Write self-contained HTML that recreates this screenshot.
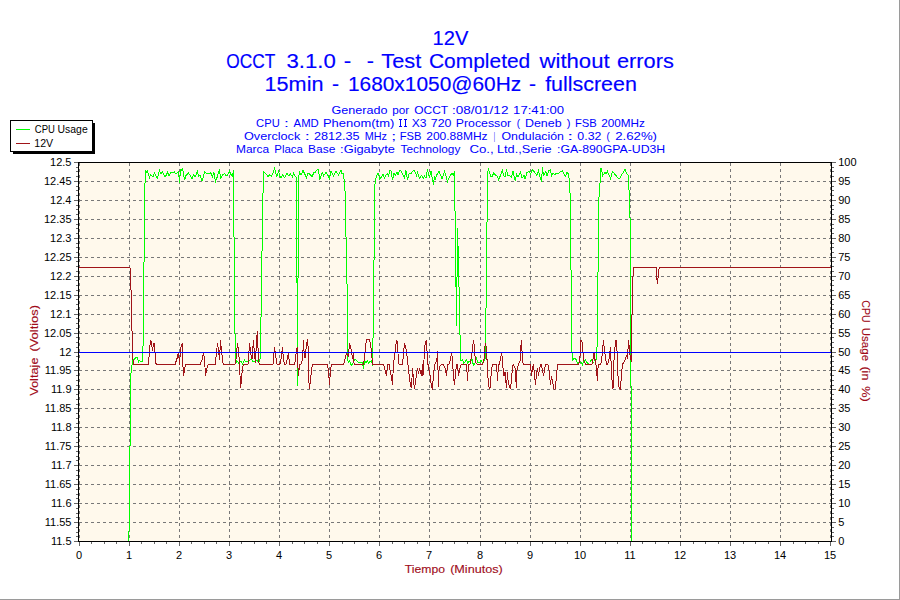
<!DOCTYPE html>
<html><head><meta charset="utf-8"><title>12V</title>
<style>html,body{margin:0;padding:0;background:#fff;overflow:hidden}body{width:900px;height:600px;font-family:"Liberation Sans",sans-serif}svg{display:block;position:absolute;left:0;top:0}text{font-family:"Liberation Sans",sans-serif}</style>
</head><body>
<svg width="900" height="600" viewBox="0 0 900 600">
<rect x="0" y="0" width="900" height="600" fill="#ffffff"/>
<rect x="899" y="0" width="1" height="600" fill="#9a9a9a"/>
<rect x="0" y="599" width="900" height="1" fill="#9a9a9a"/>
<rect x="78" y="162" width="753" height="380" fill="#fff9ec"/>
<g shape-rendering="crispEdges" stroke="#787878" stroke-width="1" stroke-dasharray="3 3" fill="none">
<line x1="79" y1="181.5" x2="831" y2="181.5"/>
<line x1="79" y1="200.5" x2="831" y2="200.5"/>
<line x1="79" y1="219.5" x2="831" y2="219.5"/>
<line x1="79" y1="238.5" x2="831" y2="238.5"/>
<line x1="79" y1="257.5" x2="831" y2="257.5"/>
<line x1="79" y1="276.5" x2="831" y2="276.5"/>
<line x1="79" y1="295.5" x2="831" y2="295.5"/>
<line x1="79" y1="314.5" x2="831" y2="314.5"/>
<line x1="79" y1="333.5" x2="831" y2="333.5"/>
<line x1="79" y1="352.5" x2="831" y2="352.5"/>
<line x1="79" y1="370.5" x2="831" y2="370.5"/>
<line x1="79" y1="389.5" x2="831" y2="389.5"/>
<line x1="79" y1="408.5" x2="831" y2="408.5"/>
<line x1="79" y1="427.5" x2="831" y2="427.5"/>
<line x1="79" y1="446.5" x2="831" y2="446.5"/>
<line x1="79" y1="465.5" x2="831" y2="465.5"/>
<line x1="79" y1="484.5" x2="831" y2="484.5"/>
<line x1="79" y1="503.5" x2="831" y2="503.5"/>
<line x1="79" y1="522.5" x2="831" y2="522.5"/>
<line x1="79.5" y1="163" x2="79.5" y2="541"/>
<line x1="129.5" y1="163" x2="129.5" y2="541"/>
<line x1="179.5" y1="163" x2="179.5" y2="541"/>
<line x1="229.5" y1="163" x2="229.5" y2="541"/>
<line x1="279.5" y1="163" x2="279.5" y2="541"/>
<line x1="329.5" y1="163" x2="329.5" y2="541"/>
<line x1="379.5" y1="163" x2="379.5" y2="541"/>
<line x1="429.5" y1="163" x2="429.5" y2="541"/>
<line x1="480.5" y1="163" x2="480.5" y2="541"/>
<line x1="530.5" y1="163" x2="530.5" y2="541"/>
<line x1="580.5" y1="163" x2="580.5" y2="541"/>
<line x1="630.5" y1="163" x2="630.5" y2="541"/>
<line x1="680.5" y1="163" x2="680.5" y2="541"/>
<line x1="730.5" y1="163" x2="730.5" y2="541"/>
<line x1="780.5" y1="163" x2="780.5" y2="541"/>
<line x1="830.5" y1="163" x2="830.5" y2="541"/>
</g>
<polyline points="128.5,541 128.5,531.5 129.5,530.5 129.5,446.5 130.5,445.5 130.5,373.5 131.5,372.5 131.5,365.5 132.5,364.5 132.5,360 134.5,359 136.5,357 137.5,357 138.5,362 139.5,360.5 140.5,361.5 142.5,361.5 142.5,346.5 143.5,345.5 143.5,262.5 144.5,261.5 144.5,183.5 145.5,182.5 145.5,170 146.5,172 147.5,171 148.5,174.5 149.5,177.5 150.5,175 152,176 153,177 154.5,173 156,176 157.5,178.5 159.5,170.5 161,174 162.5,172 164.5,176 165.5,176.5 167.5,172.5 169,175.5 171,172.5 174.5,172 176,174 178.5,171.5 179.5,183 180.5,169.5 181.5,170 182.5,168.5 183.5,173 184.5,180 186,175.5 188.5,173 190,175 192,178.5 193.5,174.5 195,177 197.5,171.5 198.5,176.5 200,175.5 202,180.5 203.5,176.5 204.5,171.5 206,173 207.5,173 209,174 210.5,172.5 212.5,176.5 214,172.5 215.5,181.5 217,177.5 219.5,169.5 220.5,178.5 222.5,175 224.5,173.5 226,175.5 227.5,175 229.5,171.5 231,174.5 232.5,176.5 233.5,170 233.5,236.5 234.5,237.5 234.5,333.5 235.5,334.5 235.5,358 236.5,362 237.5,361.5 238.5,363 239.5,360.5 241,361.5 242.5,364 244.5,360 245.5,361.5 248.5,361.5 250,360 251.5,359.5 252.5,361 254.5,361.5 256,360.5 257.5,361 259,361.5 260.5,358 260.5,317.5 261.5,316.5 261.5,251.5 262.5,250.5 262.5,193.5 263.5,192.5 263.5,171.5 265,173 266.5,174.5 268,176.5 269.5,175 271.5,176 273,173 274.5,168.5 275.5,172 276.5,176.5 277.5,175.5 278.5,170 279.5,176 281,177.5 282.5,175 284.5,177.5 287,173.5 289,176 290.5,174 292.5,177 293.5,173 295,176 296.5,177.5 297.5,385.5 298.5,177.5 299.5,172 301,175 303,170.5 305,174.5 306.5,177.5 308,173 310,174.5 312,176.5 314,172.5 315,173 316.5,170.5 318,169.5 319,174 320,179.5 321.5,174 322.5,172.5 323.5,176 326,172.5 328,175.5 329.5,178.5 331,171 333.5,176 336,171.5 338.5,175 341,170.5 342,173.5 343,173 344,179 344.5,181.5 344.5,190.5 345.5,191.5 345.5,236.5 346.5,237.5 346.5,283.5 347.5,284.5 347.5,360 348.5,362 349.5,361 351.5,365.5 354,361 355,359 357,361 358.5,362.5 362,362.5 363.5,367.5 365,361 366,362.5 367.5,360.5 368.5,363 371.5,360.5 372.5,365.5 372.5,338.5 373.5,337.5 373.5,260.5 374.5,259.5 374.5,187.5 375.5,181 376.5,176 378,173.5 379,176 379.5,179.5 381,177.5 383,174.5 384.5,178 386,175 387.5,174 388.5,176 390,170 391,171 392.5,179.5 394,173.5 395.5,175 397,172.5 398,175 399.5,171 400.5,170.5 402,173 404.5,177.5 406,170.5 407.5,179.5 409,174 411,173.5 413,171 414.5,170.5 416.5,175.5 417.5,172.5 419.5,178.5 421.5,175.5 423.5,178 424.5,176 426,178 427.5,169.5 428.5,175 429.5,177 431,171.5 432.5,179 433.5,184.5 434.5,176 435.5,178.5 437,174.5 439,171.5 440.5,175 442,179 444.5,171.5 446,176 447.5,181.5 449.5,176.5 452,173.5 453.5,175.5 454.5,171.5 454.5,210.5 455.5,211.5 455.5,286.5 456.5,287.5 456.5,326 456.5,277.5 457.5,276.5 457.5,228 457.5,245.5 458.5,246.5 458.5,286.5 459.5,287.5 459.5,334.5 460.5,335.5 460.5,360 461.5,360.5 462.5,359.5 463.5,363 465,362 466.5,359.5 467.5,363 469,361.5 470.5,361.5 472,359.5 473.5,365.5 475,363 476.5,357 477.5,362 479.5,362.5 481,360 482.5,363 484,361 485.5,358 485.5,308.5 486.5,307.5 486.5,222.5 487.5,221.5 487.5,173 488.5,169.5 489.5,172.5 491,176.5 492.5,176 493.5,173 495.5,175 497,176 498.5,179.5 500.5,175.5 502.5,170 503.5,175.5 505,177 506.5,169.5 507.5,175 509.5,175.5 511.5,177 513,171.5 514.5,178 515.5,181 516.5,174 518,177 520.5,172.5 522,178 524,175.5 525,179 527,172.5 529,171.5 530.5,174 532.5,169.5 534.5,172 537,175.5 538.5,170.5 540.5,179 541.5,181.5 542.5,167.5 543.5,175.5 544.5,174 546,171.5 547,176 549,170.5 550.5,170 551.5,176 553,173.5 555,174.5 557,173 559,173 561,171.5 562.5,170.5 564,174 565.5,176 567,172.5 568,173.5 569.5,180.5 569.5,192.5 570.5,193.5 570.5,269.5 571.5,270.5 571.5,352.5 572.5,353.5 572.5,360 573.5,359 575,358.5 576.5,360 577.5,363.5 579.5,362 581,362 582.5,364.5 584,361 585.5,359.5 586.5,362 588,363.5 589.5,362.5 591.5,359.5 593,362.5 594.5,361.5 595.5,359 596.5,359 596.5,347.5 597.5,346.5 597.5,272.5 598.5,271.5 598.5,197.5 599.5,196.5 599.5,183.5 600.5,182.5 600.5,169 601.5,168.5 602.5,176 605,172.5 606,174 607.5,171.5 610.5,178.5 612.5,171.5 615,174.5 618.5,178.5 620,178 622.5,173.5 625,169.5 627,174 628.5,175.5 628.5,189.5 629.5,190.5 629.5,217.5 630.5,218.5 630.5,385.5 631.5,386.5 631.5,541" fill="none" stroke="#00ff00" stroke-width="1" shape-rendering="crispEdges" stroke-linejoin="miter"/>
<polyline points="78.5,267.5 129.5,267.5 130.5,268.5 130.5,289.5 131.5,290.5 131.5,330.5 132.5,331.5 132.5,354.5 133.5,364.5 148.5,364.5 149.5,350.5 150.5,340.5 151.5,342 152.5,351 153.5,343 154.5,343 155,353 155.5,363 157,364.5 175,364.5 177.5,357 178.5,352 179.5,364.5 180.5,349 181.5,345 182.5,343 182.5,359 183.5,375.5 184.5,370 185.5,364.5 200,364.5 202,360 203.5,353 204.5,359 205.5,375.5 206.5,370 208,365 209,364.5 215,364.5 216,357 217.5,343 218.5,350 219.5,360 220.5,340 221.5,351 223,363 223.5,364.5 235,364.5 236,359 237.5,343 238.5,350 239.5,363 240.5,387.5 241.5,380 242.5,367 243.5,364.5 248,364.5 248.5,359 249.5,343 251,355 252,359 253.5,340 254.5,355 255.5,363 256.5,340 257.5,331 258,348 259,363 259.5,364.5 273,364.5 273.5,359 274.5,347 275.5,355 277,364 279,364.5 280.5,363 281.5,355 282.5,347 283.5,360 284.5,364.5 286,364.5 287,360 288.5,353 289.5,364.5 294.5,364.5 295.5,359 296.5,349 297.5,347 297.5,360 298.5,375.5 299.5,365 301,364 302.5,360 303.5,340 304,351 305,358 306.5,345 307.5,339 308.5,353 308.5,376 309.5,389 310.5,380 311.5,370 312.5,364.5 327.5,364.5 328.5,372 329.5,384.5 330.5,370 331.5,364.5 343.5,364.5 345,359 346.5,353 347.5,355 348.5,356 349.5,343 350.5,347 351.5,351 352.5,359 353.5,353 354,363 355,364.5 363,364.5 364,361 365,353 365.5,345 367,339.5 369.5,339.5 370.5,345 371.5,351 372.5,364.5 383.5,364.5 385,370 386.5,375.5 387.5,364.5 389,364.5 390.5,372 391.5,378 392.5,384.5 393.5,363 395,353 396.5,340 397.5,343 398.5,363 399.5,364.5 402.5,364.5 403.5,353 404.5,343 406.5,351 408,364.5 409.5,378 410.5,386 411.5,387.5 412.5,368 413.5,380 414.5,389 416,378 417.5,368 418.5,374 419.5,368 420.5,372 421.5,375.5 422.5,364.5 423,375.5 424,360 424.5,347 425.5,342.5 426.5,340 427,351 428,364.5 429.5,372 430.5,378 431.5,387 432.5,389 433,381 434,370 435,364 436,362 437,358 437.5,351 438,370 438.5,387 439,370 440,366 441.5,364.5 443.5,364.5 445,368 446.5,375.5 447.5,365 449,364.5 450.5,359 451.5,353 452.5,359 453.5,378 454.5,384.5 455.5,374 456.5,364.5 457.5,364.5 458.5,375.5 459.5,370 461,365 462,364.5 466,364.5 467,372 467.5,380.5 468.5,364.5 470,364 471,359 472.5,349 473.5,340 474.5,347 475,356 476,363 477.5,364.5 482.5,364.5 484,359 484.5,349 485.5,343 486.5,349 486.5,359 487.5,360 488,378 489,387 490,388.5 490.5,382 491.5,370 492.5,364.5 496,364.5 497,372 497.5,380.5 498.5,364.5 499.5,364 500.5,359 501.5,353 502.5,359 503,368 504,375.5 505,372 505.5,378 506.5,387.5 507.5,372 508,380 509.5,387 510.5,388.5 511.5,380 512.5,366 513.5,364.5 515,368 515.5,375.5 516.5,387.5 517,370 518.5,364.5 520,361 520.5,351 521.5,340 522,351 523,363 524,364.5 530.5,364.5 531.5,375.5 532.5,368 533.5,364.5 534.5,375.5 535.5,384.5 536.5,374 537.5,368 538.5,375.5 539.5,368 541,364.5 541.5,365 542.5,370 543.5,375.5 544.5,370 545.5,364.5 548,364.5 549,370 550.5,384.5 551.5,376 552.5,382 554,389 555,389 556,381 557,370 558,364.5 578,364.5 579.5,362 580.5,351 581,340 582.5,342.5 583,353 584,361 585.5,364.5 592,364.5 593,359 594,353 594.5,359 595.5,360 596,364.5 596.5,372 597.5,380.5 598,368 599,364.5 600.5,364.5 601.5,362 602.5,351 603.5,340 604.5,351 606,361 607,364.5 608,363 609,359 610.5,347 611,361 612,380 613,389 613.5,370 614.5,351 616,340 617,351 617,370 618,376 619,387 620.5,389 621.5,374 622.5,364.5 624,362 625.5,359 626.5,355 627.5,359 628.5,340 629.5,349 630,355 631.5,362 631.5,330.5 632.5,300.5 632.5,276.5 633.5,275.5 633.5,267.5 656.5,267.5 656.5,276 657.5,284 658,278 658.5,271 659.5,267.5 830.5,267.5" fill="none" stroke="#a01418" stroke-width="1" shape-rendering="crispEdges" stroke-linejoin="miter"/>
<rect x="79" y="352" width="752" height="1" fill="#0000ff" shape-rendering="crispEdges"/>
<g shape-rendering="crispEdges" fill="#000">
<rect x="78" y="162" width="754" height="1"/>
<rect x="78" y="541" width="754" height="1"/>
<rect x="78" y="162" width="1" height="380"/>
<rect x="831" y="162" width="1" height="380"/>
</g>
<g shape-rendering="crispEdges" fill="#666666">
<rect x="74" y="162" width="4" height="1"/>
<rect x="832" y="162" width="4" height="1"/>
<rect x="76" y="167" width="2" height="1"/>
<rect x="832" y="167" width="2" height="1"/>
<rect x="76" y="171" width="2" height="1"/>
<rect x="832" y="171" width="2" height="1"/>
<rect x="76" y="176" width="2" height="1"/>
<rect x="832" y="176" width="2" height="1"/>
<rect x="74" y="181" width="4" height="1"/>
<rect x="832" y="181" width="4" height="1"/>
<rect x="76" y="186" width="2" height="1"/>
<rect x="832" y="186" width="2" height="1"/>
<rect x="76" y="190" width="2" height="1"/>
<rect x="832" y="190" width="2" height="1"/>
<rect x="76" y="195" width="2" height="1"/>
<rect x="832" y="195" width="2" height="1"/>
<rect x="74" y="200" width="4" height="1"/>
<rect x="832" y="200" width="4" height="1"/>
<rect x="76" y="205" width="2" height="1"/>
<rect x="832" y="205" width="2" height="1"/>
<rect x="76" y="209" width="2" height="1"/>
<rect x="832" y="209" width="2" height="1"/>
<rect x="76" y="214" width="2" height="1"/>
<rect x="832" y="214" width="2" height="1"/>
<rect x="74" y="219" width="4" height="1"/>
<rect x="832" y="219" width="4" height="1"/>
<rect x="76" y="224" width="2" height="1"/>
<rect x="832" y="224" width="2" height="1"/>
<rect x="76" y="228" width="2" height="1"/>
<rect x="832" y="228" width="2" height="1"/>
<rect x="76" y="233" width="2" height="1"/>
<rect x="832" y="233" width="2" height="1"/>
<rect x="74" y="238" width="4" height="1"/>
<rect x="832" y="238" width="4" height="1"/>
<rect x="76" y="243" width="2" height="1"/>
<rect x="832" y="243" width="2" height="1"/>
<rect x="76" y="247" width="2" height="1"/>
<rect x="832" y="247" width="2" height="1"/>
<rect x="76" y="252" width="2" height="1"/>
<rect x="832" y="252" width="2" height="1"/>
<rect x="74" y="257" width="4" height="1"/>
<rect x="832" y="257" width="4" height="1"/>
<rect x="76" y="261" width="2" height="1"/>
<rect x="832" y="261" width="2" height="1"/>
<rect x="76" y="266" width="2" height="1"/>
<rect x="832" y="266" width="2" height="1"/>
<rect x="76" y="271" width="2" height="1"/>
<rect x="832" y="271" width="2" height="1"/>
<rect x="74" y="276" width="4" height="1"/>
<rect x="832" y="276" width="4" height="1"/>
<rect x="76" y="280" width="2" height="1"/>
<rect x="832" y="280" width="2" height="1"/>
<rect x="76" y="285" width="2" height="1"/>
<rect x="832" y="285" width="2" height="1"/>
<rect x="76" y="290" width="2" height="1"/>
<rect x="832" y="290" width="2" height="1"/>
<rect x="74" y="295" width="4" height="1"/>
<rect x="832" y="295" width="4" height="1"/>
<rect x="76" y="299" width="2" height="1"/>
<rect x="832" y="299" width="2" height="1"/>
<rect x="76" y="304" width="2" height="1"/>
<rect x="832" y="304" width="2" height="1"/>
<rect x="76" y="309" width="2" height="1"/>
<rect x="832" y="309" width="2" height="1"/>
<rect x="74" y="314" width="4" height="1"/>
<rect x="832" y="314" width="4" height="1"/>
<rect x="76" y="318" width="2" height="1"/>
<rect x="832" y="318" width="2" height="1"/>
<rect x="76" y="323" width="2" height="1"/>
<rect x="832" y="323" width="2" height="1"/>
<rect x="76" y="328" width="2" height="1"/>
<rect x="832" y="328" width="2" height="1"/>
<rect x="74" y="333" width="4" height="1"/>
<rect x="832" y="333" width="4" height="1"/>
<rect x="76" y="337" width="2" height="1"/>
<rect x="832" y="337" width="2" height="1"/>
<rect x="76" y="342" width="2" height="1"/>
<rect x="832" y="342" width="2" height="1"/>
<rect x="76" y="347" width="2" height="1"/>
<rect x="832" y="347" width="2" height="1"/>
<rect x="74" y="352" width="4" height="1"/>
<rect x="832" y="352" width="4" height="1"/>
<rect x="76" y="356" width="2" height="1"/>
<rect x="832" y="356" width="2" height="1"/>
<rect x="76" y="361" width="2" height="1"/>
<rect x="832" y="361" width="2" height="1"/>
<rect x="76" y="366" width="2" height="1"/>
<rect x="832" y="366" width="2" height="1"/>
<rect x="74" y="370" width="4" height="1"/>
<rect x="832" y="370" width="4" height="1"/>
<rect x="76" y="375" width="2" height="1"/>
<rect x="832" y="375" width="2" height="1"/>
<rect x="76" y="380" width="2" height="1"/>
<rect x="832" y="380" width="2" height="1"/>
<rect x="76" y="385" width="2" height="1"/>
<rect x="832" y="385" width="2" height="1"/>
<rect x="74" y="389" width="4" height="1"/>
<rect x="832" y="389" width="4" height="1"/>
<rect x="76" y="394" width="2" height="1"/>
<rect x="832" y="394" width="2" height="1"/>
<rect x="76" y="399" width="2" height="1"/>
<rect x="832" y="399" width="2" height="1"/>
<rect x="76" y="404" width="2" height="1"/>
<rect x="832" y="404" width="2" height="1"/>
<rect x="74" y="408" width="4" height="1"/>
<rect x="832" y="408" width="4" height="1"/>
<rect x="76" y="413" width="2" height="1"/>
<rect x="832" y="413" width="2" height="1"/>
<rect x="76" y="418" width="2" height="1"/>
<rect x="832" y="418" width="2" height="1"/>
<rect x="76" y="423" width="2" height="1"/>
<rect x="832" y="423" width="2" height="1"/>
<rect x="74" y="427" width="4" height="1"/>
<rect x="832" y="427" width="4" height="1"/>
<rect x="76" y="432" width="2" height="1"/>
<rect x="832" y="432" width="2" height="1"/>
<rect x="76" y="437" width="2" height="1"/>
<rect x="832" y="437" width="2" height="1"/>
<rect x="76" y="442" width="2" height="1"/>
<rect x="832" y="442" width="2" height="1"/>
<rect x="74" y="446" width="4" height="1"/>
<rect x="832" y="446" width="4" height="1"/>
<rect x="76" y="451" width="2" height="1"/>
<rect x="832" y="451" width="2" height="1"/>
<rect x="76" y="456" width="2" height="1"/>
<rect x="832" y="456" width="2" height="1"/>
<rect x="76" y="460" width="2" height="1"/>
<rect x="832" y="460" width="2" height="1"/>
<rect x="74" y="465" width="4" height="1"/>
<rect x="832" y="465" width="4" height="1"/>
<rect x="76" y="470" width="2" height="1"/>
<rect x="832" y="470" width="2" height="1"/>
<rect x="76" y="475" width="2" height="1"/>
<rect x="832" y="475" width="2" height="1"/>
<rect x="76" y="479" width="2" height="1"/>
<rect x="832" y="479" width="2" height="1"/>
<rect x="74" y="484" width="4" height="1"/>
<rect x="832" y="484" width="4" height="1"/>
<rect x="76" y="489" width="2" height="1"/>
<rect x="832" y="489" width="2" height="1"/>
<rect x="76" y="494" width="2" height="1"/>
<rect x="832" y="494" width="2" height="1"/>
<rect x="76" y="498" width="2" height="1"/>
<rect x="832" y="498" width="2" height="1"/>
<rect x="74" y="503" width="4" height="1"/>
<rect x="832" y="503" width="4" height="1"/>
<rect x="76" y="508" width="2" height="1"/>
<rect x="832" y="508" width="2" height="1"/>
<rect x="76" y="513" width="2" height="1"/>
<rect x="832" y="513" width="2" height="1"/>
<rect x="76" y="517" width="2" height="1"/>
<rect x="832" y="517" width="2" height="1"/>
<rect x="74" y="522" width="4" height="1"/>
<rect x="832" y="522" width="4" height="1"/>
<rect x="76" y="527" width="2" height="1"/>
<rect x="832" y="527" width="2" height="1"/>
<rect x="76" y="532" width="2" height="1"/>
<rect x="832" y="532" width="2" height="1"/>
<rect x="76" y="536" width="2" height="1"/>
<rect x="832" y="536" width="2" height="1"/>
<rect x="74" y="541" width="4" height="1"/>
<rect x="832" y="541" width="4" height="1"/>
<rect x="79" y="542" width="1" height="4"/>
<rect x="91" y="542" width="1" height="2"/>
<rect x="104" y="542" width="1" height="2"/>
<rect x="116" y="542" width="1" height="2"/>
<rect x="129" y="542" width="1" height="4"/>
<rect x="141" y="542" width="1" height="2"/>
<rect x="154" y="542" width="1" height="2"/>
<rect x="166" y="542" width="1" height="2"/>
<rect x="179" y="542" width="1" height="4"/>
<rect x="191" y="542" width="1" height="2"/>
<rect x="204" y="542" width="1" height="2"/>
<rect x="216" y="542" width="1" height="2"/>
<rect x="229" y="542" width="1" height="4"/>
<rect x="241" y="542" width="1" height="2"/>
<rect x="254" y="542" width="1" height="2"/>
<rect x="266" y="542" width="1" height="2"/>
<rect x="279" y="542" width="1" height="4"/>
<rect x="292" y="542" width="1" height="2"/>
<rect x="304" y="542" width="1" height="2"/>
<rect x="317" y="542" width="1" height="2"/>
<rect x="329" y="542" width="1" height="4"/>
<rect x="342" y="542" width="1" height="2"/>
<rect x="354" y="542" width="1" height="2"/>
<rect x="367" y="542" width="1" height="2"/>
<rect x="379" y="542" width="1" height="4"/>
<rect x="392" y="542" width="1" height="2"/>
<rect x="404" y="542" width="1" height="2"/>
<rect x="417" y="542" width="1" height="2"/>
<rect x="429" y="542" width="1" height="4"/>
<rect x="442" y="542" width="1" height="2"/>
<rect x="454" y="542" width="1" height="2"/>
<rect x="467" y="542" width="1" height="2"/>
<rect x="480" y="542" width="1" height="4"/>
<rect x="492" y="542" width="1" height="2"/>
<rect x="505" y="542" width="1" height="2"/>
<rect x="517" y="542" width="1" height="2"/>
<rect x="530" y="542" width="1" height="4"/>
<rect x="542" y="542" width="1" height="2"/>
<rect x="555" y="542" width="1" height="2"/>
<rect x="567" y="542" width="1" height="2"/>
<rect x="580" y="542" width="1" height="4"/>
<rect x="592" y="542" width="1" height="2"/>
<rect x="605" y="542" width="1" height="2"/>
<rect x="617" y="542" width="1" height="2"/>
<rect x="630" y="542" width="1" height="4"/>
<rect x="642" y="542" width="1" height="2"/>
<rect x="655" y="542" width="1" height="2"/>
<rect x="668" y="542" width="1" height="2"/>
<rect x="680" y="542" width="1" height="4"/>
<rect x="693" y="542" width="1" height="2"/>
<rect x="705" y="542" width="1" height="2"/>
<rect x="718" y="542" width="1" height="2"/>
<rect x="730" y="542" width="1" height="4"/>
<rect x="743" y="542" width="1" height="2"/>
<rect x="755" y="542" width="1" height="2"/>
<rect x="768" y="542" width="1" height="2"/>
<rect x="780" y="542" width="1" height="4"/>
<rect x="793" y="542" width="1" height="2"/>
<rect x="805" y="542" width="1" height="2"/>
<rect x="818" y="542" width="1" height="2"/>
<rect x="830" y="542" width="1" height="4"/>
</g>
<g font-size="11" fill="#000">
<text x="71.5" y="166.0" text-anchor="end">12.5</text>
<text x="838.2" y="166.0">100</text>
<text x="71.5" y="184.9" text-anchor="end">12.45</text>
<text x="838.2" y="184.9">95</text>
<text x="71.5" y="203.9" text-anchor="end">12.4</text>
<text x="838.2" y="203.9">90</text>
<text x="71.5" y="222.8" text-anchor="end">12.35</text>
<text x="838.2" y="222.8">85</text>
<text x="71.5" y="241.8" text-anchor="end">12.3</text>
<text x="838.2" y="241.8">80</text>
<text x="71.5" y="260.8" text-anchor="end">12.25</text>
<text x="838.2" y="260.8">75</text>
<text x="71.5" y="279.7" text-anchor="end">12.2</text>
<text x="838.2" y="279.7">70</text>
<text x="71.5" y="298.6" text-anchor="end">12.15</text>
<text x="838.2" y="298.6">65</text>
<text x="71.5" y="317.6" text-anchor="end">12.1</text>
<text x="838.2" y="317.6">60</text>
<text x="71.5" y="336.6" text-anchor="end">12.05</text>
<text x="838.2" y="336.6">55</text>
<text x="71.5" y="355.5" text-anchor="end">12</text>
<text x="838.2" y="355.5">50</text>
<text x="71.5" y="374.4" text-anchor="end">11.95</text>
<text x="838.2" y="374.4">45</text>
<text x="71.5" y="393.4" text-anchor="end">11.9</text>
<text x="838.2" y="393.4">40</text>
<text x="71.5" y="412.4" text-anchor="end">11.85</text>
<text x="838.2" y="412.4">35</text>
<text x="71.5" y="431.3" text-anchor="end">11.8</text>
<text x="838.2" y="431.3">30</text>
<text x="71.5" y="450.2" text-anchor="end">11.75</text>
<text x="838.2" y="450.2">25</text>
<text x="71.5" y="469.2" text-anchor="end">11.7</text>
<text x="838.2" y="469.2">20</text>
<text x="71.5" y="488.1" text-anchor="end">11.65</text>
<text x="838.2" y="488.1">15</text>
<text x="71.5" y="507.1" text-anchor="end">11.6</text>
<text x="838.2" y="507.1">10</text>
<text x="71.5" y="526.0" text-anchor="end">11.55</text>
<text x="838.2" y="526.0">5</text>
<text x="71.5" y="545.0" text-anchor="end">11.5</text>
<text x="838.2" y="545.0">0</text>
<text x="79.0" y="559" text-anchor="middle">0</text>
<text x="129.0" y="559" text-anchor="middle">1</text>
<text x="179.0" y="559" text-anchor="middle">2</text>
<text x="229.0" y="559" text-anchor="middle">3</text>
<text x="279.0" y="559" text-anchor="middle">4</text>
<text x="329.0" y="559" text-anchor="middle">5</text>
<text x="379.0" y="559" text-anchor="middle">6</text>
<text x="429.0" y="559" text-anchor="middle">7</text>
<text x="480.0" y="559" text-anchor="middle">8</text>
<text x="530.0" y="559" text-anchor="middle">9</text>
<text x="580.0" y="559" text-anchor="middle">10</text>
<text x="630.0" y="559" text-anchor="middle">11</text>
<text x="680.0" y="559" text-anchor="middle">12</text>
<text x="730.0" y="559" text-anchor="middle">13</text>
<text x="780.0" y="559" text-anchor="middle">14</text>
<text x="830.0" y="559" text-anchor="middle">15</text>
</g>
<g shape-rendering="crispEdges">
<rect x="13" y="123" width="82" height="31" fill="#000"/>
<rect x="10.5" y="120.5" width="82" height="31" fill="#fff" stroke="#000" stroke-width="1"/>
<rect x="16" y="129" width="14" height="1" fill="#00ff00"/>
<rect x="16" y="143" width="14" height="1" fill="#a01418"/>
</g>
<text x="432.64" y="44.7" font-size="19.4" fill="#0000ff" stroke="#0000ff" stroke-width="0.15" textLength="35.81" lengthAdjust="spacingAndGlyphs">12V</text>
<text x="226.33" y="67.6" font-size="19.4" fill="#0000ff" stroke="#0000ff" stroke-width="0.15" textLength="49.05" lengthAdjust="spacingAndGlyphs">OCCT</text>
<text x="286.53" y="67.6" font-size="19.4" fill="#0000ff" stroke="#0000ff" stroke-width="0.15" textLength="49.33" lengthAdjust="spacingAndGlyphs">3.1.0</text>
<text x="343.74" y="67.6" font-size="19.4" fill="#0000ff" stroke="#0000ff" stroke-width="0.15" textLength="7.48" lengthAdjust="spacingAndGlyphs">-</text>
<text x="366.83" y="67.6" font-size="19.4" fill="#0000ff" stroke="#0000ff" stroke-width="0.15" textLength="7.22" lengthAdjust="spacingAndGlyphs">-</text>
<text x="381.37" y="67.6" font-size="19.4" fill="#0000ff" stroke="#0000ff" stroke-width="0.15" textLength="39.95" lengthAdjust="spacingAndGlyphs">Test</text>
<text x="428.98" y="67.6" font-size="19.4" fill="#0000ff" stroke="#0000ff" stroke-width="0.15" textLength="101.28" lengthAdjust="spacingAndGlyphs">Completed</text>
<text x="539.54" y="67.6" font-size="19.4" fill="#0000ff" stroke="#0000ff" stroke-width="0.15" textLength="70.07" lengthAdjust="spacingAndGlyphs">without</text>
<text x="616.95" y="67.6" font-size="19.4" fill="#0000ff" stroke="#0000ff" stroke-width="0.15" textLength="56.83" lengthAdjust="spacingAndGlyphs">errors</text>
<text x="264.56" y="90.6" font-size="19.4" fill="#0000ff" stroke="#0000ff" stroke-width="0.15" textLength="58.94" lengthAdjust="spacingAndGlyphs">15min</text>
<text x="332.00" y="90.6" font-size="19.4" fill="#0000ff" stroke="#0000ff" stroke-width="0.15" textLength="7.06" lengthAdjust="spacingAndGlyphs">-</text>
<text x="347.93" y="90.6" font-size="19.4" fill="#0000ff" stroke="#0000ff" stroke-width="0.15" textLength="173.26" lengthAdjust="spacingAndGlyphs">1680x1050@60Hz</text>
<text x="528.92" y="90.6" font-size="19.4" fill="#0000ff" stroke="#0000ff" stroke-width="0.15" textLength="7.01" lengthAdjust="spacingAndGlyphs">-</text>
<text x="545.17" y="90.6" font-size="19.4" fill="#0000ff" stroke="#0000ff" stroke-width="0.15" textLength="91.74" lengthAdjust="spacingAndGlyphs">fullscreen</text>
<text x="331.47" y="114" font-size="11.0" fill="#0000ff" stroke="#0000ff" stroke-width="0.0" textLength="55.97" lengthAdjust="spacingAndGlyphs">Generado</text>
<text x="392.15" y="114" font-size="11.0" fill="#0000ff" stroke="#0000ff" stroke-width="0.0" textLength="16.93" lengthAdjust="spacingAndGlyphs">por</text>
<text x="414.19" y="114" font-size="11.0" fill="#0000ff" stroke="#0000ff" stroke-width="0.0" textLength="33.89" lengthAdjust="spacingAndGlyphs">OCCT</text>
<text x="452.09" y="114" font-size="11.0" fill="#0000ff" stroke="#0000ff" stroke-width="0.0" textLength="56.32" lengthAdjust="spacingAndGlyphs">:08/01/12</text>
<text x="513.14" y="114" font-size="11.0" fill="#0000ff" stroke="#0000ff" stroke-width="0.0" textLength="51.03" lengthAdjust="spacingAndGlyphs">17:41:00</text>
<text x="256.13" y="127" font-size="11.0" fill="#0000ff" stroke="#0000ff" stroke-width="0.0" textLength="23.65" lengthAdjust="spacingAndGlyphs">CPU</text>
<text x="283.98" y="127" font-size="11.0" fill="#0000ff" stroke="#0000ff" stroke-width="0.0" textLength="4.83" lengthAdjust="spacingAndGlyphs">:</text>
<text x="293.60" y="127" font-size="11.0" fill="#0000ff" stroke="#0000ff" stroke-width="0.0" textLength="25.17" lengthAdjust="spacingAndGlyphs">AMD</text>
<text x="322.98" y="127" font-size="11.0" fill="#0000ff" stroke="#0000ff" stroke-width="0.0" textLength="71.35" lengthAdjust="spacingAndGlyphs">Phenom(tm)</text>
<rect x="399" y="119" width="3" height="1" fill="#0000ff"/><rect x="400" y="119" width="1" height="8" fill="#0000ff"/><rect x="399" y="126" width="3" height="1" fill="#0000ff"/>
<rect x="404" y="119" width="3" height="1" fill="#0000ff"/><rect x="405" y="119" width="1" height="8" fill="#0000ff"/><rect x="404" y="126" width="3" height="1" fill="#0000ff"/>
<text x="411.81" y="127" font-size="11.0" fill="#0000ff" stroke="#0000ff" stroke-width="0.0" textLength="14.77" lengthAdjust="spacingAndGlyphs">X3</text>
<text x="430.89" y="127" font-size="11.0" fill="#0000ff" stroke="#0000ff" stroke-width="0.0" textLength="20.60" lengthAdjust="spacingAndGlyphs">720</text>
<text x="455.83" y="127" font-size="11.0" fill="#0000ff" stroke="#0000ff" stroke-width="0.0" textLength="55.37" lengthAdjust="spacingAndGlyphs">Processor</text>
<text x="516.75" y="127" font-size="11.0" fill="#0000ff" stroke="#0000ff" stroke-width="0.0" textLength="3.31" lengthAdjust="spacingAndGlyphs">(</text>
<text x="524.96" y="127" font-size="11.0" fill="#0000ff" stroke="#0000ff" stroke-width="0.0" textLength="36.60" lengthAdjust="spacingAndGlyphs">Deneb</text>
<text x="566.65" y="127" font-size="11.0" fill="#0000ff" stroke="#0000ff" stroke-width="0.0" textLength="3.72" lengthAdjust="spacingAndGlyphs">)</text>
<text x="574.96" y="127" font-size="11.0" fill="#0000ff" stroke="#0000ff" stroke-width="0.0" textLength="21.85" lengthAdjust="spacingAndGlyphs">FSB</text>
<text x="601.19" y="127" font-size="11.0" fill="#0000ff" stroke="#0000ff" stroke-width="0.0" textLength="43.73" lengthAdjust="spacingAndGlyphs">200MHz</text>
<text x="243.99" y="140" font-size="11.0" fill="#0000ff" stroke="#0000ff" stroke-width="0.0" textLength="56.29" lengthAdjust="spacingAndGlyphs">Overclock</text>
<text x="304.78" y="140" font-size="11.0" fill="#0000ff" stroke="#0000ff" stroke-width="0.0" textLength="5.06" lengthAdjust="spacingAndGlyphs">:</text>
<text x="313.91" y="140" font-size="11.0" fill="#0000ff" stroke="#0000ff" stroke-width="0.0" textLength="45.73" lengthAdjust="spacingAndGlyphs">2812.35</text>
<text x="364.65" y="140" font-size="11.0" fill="#0000ff" stroke="#0000ff" stroke-width="0.0" textLength="22.24" lengthAdjust="spacingAndGlyphs">MHz</text>
<text x="391.22" y="140" font-size="11.0" fill="#0000ff" stroke="#0000ff" stroke-width="0.0" textLength="4.87" lengthAdjust="spacingAndGlyphs">;</text>
<text x="399.80" y="140" font-size="11.0" fill="#0000ff" stroke="#0000ff" stroke-width="0.0" textLength="21.75" lengthAdjust="spacingAndGlyphs">FSB</text>
<text x="426.23" y="140" font-size="11.0" fill="#0000ff" stroke="#0000ff" stroke-width="0.0" textLength="61.33" lengthAdjust="spacingAndGlyphs">200.88MHz</text>
<text x="493.70" y="140" font-size="11.0" fill="#0000ff" stroke="#0000ff" stroke-width="0.0" textLength="1.30" lengthAdjust="spacingAndGlyphs">|</text>
<text x="501.51" y="140" font-size="11.0" fill="#0000ff" stroke="#0000ff" stroke-width="0.0" textLength="62.41" lengthAdjust="spacingAndGlyphs">Ondulaci&#243;n</text>
<text x="567.20" y="140" font-size="11.0" fill="#0000ff" stroke="#0000ff" stroke-width="0.0" textLength="5.96" lengthAdjust="spacingAndGlyphs">:</text>
<text x="577.39" y="140" font-size="11.0" fill="#0000ff" stroke="#0000ff" stroke-width="0.0" textLength="24.02" lengthAdjust="spacingAndGlyphs">0.32</text>
<text x="606.38" y="140" font-size="11.0" fill="#0000ff" stroke="#0000ff" stroke-width="0.0" textLength="3.24" lengthAdjust="spacingAndGlyphs">(</text>
<text x="615.19" y="140" font-size="11.0" fill="#0000ff" stroke="#0000ff" stroke-width="0.0" textLength="41.83" lengthAdjust="spacingAndGlyphs">2.62%)</text>
<text x="235.98" y="153" font-size="11.0" fill="#0000ff" stroke="#0000ff" stroke-width="0.0" textLength="33.06" lengthAdjust="spacingAndGlyphs">Marca</text>
<text x="274.34" y="153" font-size="11.0" fill="#0000ff" stroke="#0000ff" stroke-width="0.0" textLength="28.62" lengthAdjust="spacingAndGlyphs">Placa</text>
<text x="308.07" y="153" font-size="11.0" fill="#0000ff" stroke="#0000ff" stroke-width="0.0" textLength="27.25" lengthAdjust="spacingAndGlyphs">Base</text>
<text x="340.14" y="153" font-size="11.0" fill="#0000ff" stroke="#0000ff" stroke-width="0.0" textLength="54.79" lengthAdjust="spacingAndGlyphs">:Gigabyte</text>
<text x="400.52" y="153" font-size="11.0" fill="#0000ff" stroke="#0000ff" stroke-width="0.0" textLength="59.84" lengthAdjust="spacingAndGlyphs">Technology</text>
<text x="469.41" y="153" font-size="11.0" fill="#0000ff" stroke="#0000ff" stroke-width="0.0" textLength="24.36" lengthAdjust="spacingAndGlyphs">Co.,</text>
<text x="496.98" y="153" font-size="11.0" fill="#0000ff" stroke="#0000ff" stroke-width="0.0" textLength="54.60" lengthAdjust="spacingAndGlyphs">Ltd.,Serie</text>
<text x="556.98" y="153" font-size="11.0" fill="#0000ff" stroke="#0000ff" stroke-width="0.0" textLength="108.27" lengthAdjust="spacingAndGlyphs">:GA-890GPA-UD3H</text>
<text x="404.89" y="572.5" font-size="11.0" fill="#a00c1a" stroke="#a00c1a" stroke-width="0.12" textLength="40.16" lengthAdjust="spacingAndGlyphs">Tiempo</text>
<text x="450.16" y="572.5" font-size="11.0" fill="#a00c1a" stroke="#a00c1a" stroke-width="0.12" textLength="52.60" lengthAdjust="spacingAndGlyphs">(Minutos)</text>
<g transform="translate(38,396) rotate(-90)"><text x="0.15" y="0" font-size="11.0" fill="#a00c1a" stroke="#a00c1a" stroke-width="0.12" textLength="38.35" lengthAdjust="spacingAndGlyphs">Voltaje</text></g>
<g transform="translate(38,396) rotate(-90)"><text x="44.43" y="0" font-size="11.0" fill="#a00c1a" stroke="#a00c1a" stroke-width="0.12" textLength="46.62" lengthAdjust="spacingAndGlyphs">(Voltios)</text></g>
<g transform="translate(862,300.7) rotate(90)"><text x="-0.40" y="0" font-size="11.0" fill="#a00c1a" stroke="#a00c1a" stroke-width="0.12" textLength="22.49" lengthAdjust="spacingAndGlyphs">CPU</text></g>
<g transform="translate(862,300.7) rotate(90)"><text x="27.07" y="0" font-size="11.0" fill="#a00c1a" stroke="#a00c1a" stroke-width="0.12" textLength="33.35" lengthAdjust="spacingAndGlyphs">Usage</text></g>
<g transform="translate(862,300.7) rotate(90)"><text x="65.69" y="0" font-size="11.0" fill="#a00c1a" stroke="#a00c1a" stroke-width="0.12" textLength="14.11" lengthAdjust="spacingAndGlyphs">(in</text></g>
<g transform="translate(862,300.7) rotate(90)"><text x="85.25" y="0" font-size="11.0" fill="#a00c1a" stroke="#a00c1a" stroke-width="0.12" textLength="15.93" lengthAdjust="spacingAndGlyphs">%)</text></g>
<text x="34.82" y="133" font-size="11" fill="#000" stroke="#000" stroke-width="0.0" textLength="20.10" lengthAdjust="spacingAndGlyphs">CPU</text>
<text x="57.60" y="133" font-size="11" fill="#000" stroke="#000" stroke-width="0.0" textLength="30.08" lengthAdjust="spacingAndGlyphs">Usage</text>
<text x="34.27" y="147" font-size="11" fill="#000" stroke="#000" stroke-width="0.0" textLength="18.85" lengthAdjust="spacingAndGlyphs">12V</text>
</svg>
</body></html>
